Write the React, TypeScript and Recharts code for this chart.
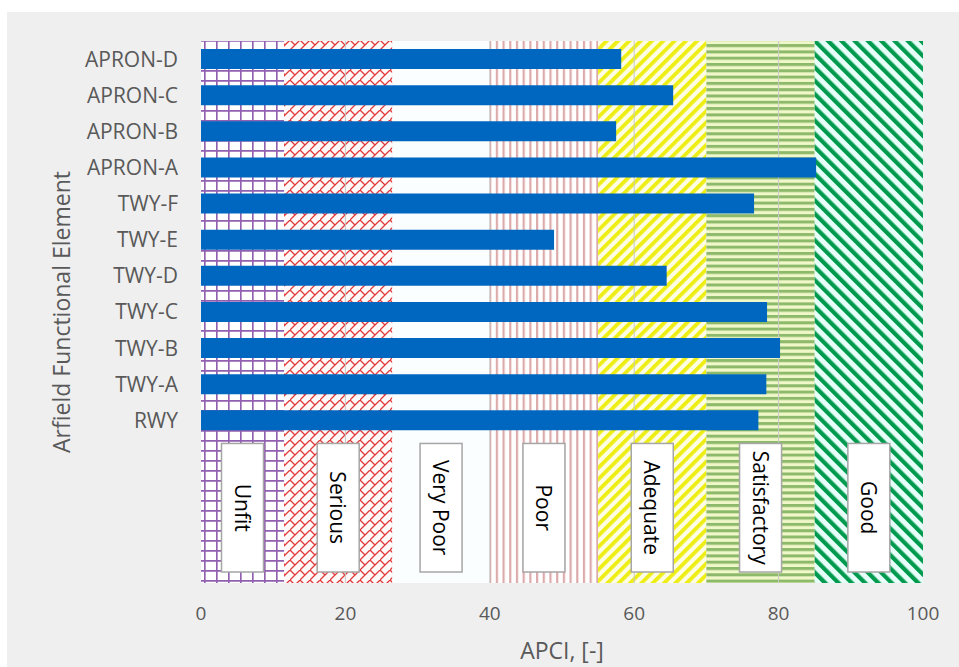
import { BarChart, Bar, XAxis, YAxis, ReferenceArea } from 'recharts'

const ELEMENTS = ['APRON-D', 'APRON-C', 'APRON-B', 'APRON-A', 'TWY-F', 'TWY-E', 'TWY-D', 'TWY-C', 'TWY-B', 'TWY-A', 'RWY']
const APCI = [58.2, 65.4, 57.5, 85.2, 76.6, 48.9, 64.5, 78.4, 80.2, 78.3, 77.2]
// empty rows below the bars, they hold the condition labels
const LABEL_ROWS = ['_r1', '_r2', '_r3', '_r4']

const CONDITIONS = ['Unfit', 'Serious', 'Very Poor', 'Poor', 'Adequate', 'Satisfactory', 'Good']
const CONDITION_LIMITS = [0, 11.5, 26.5, 40, 55, 70, 85, 100]
const X_TICKS = [0, 20, 40, 60, 80, 100]
const GRID_X = [20, 40, 60, 80]

const BAND_FILLS = ['url(#p-unfit)', 'url(#p-serious)', '#fbfefe', 'url(#p-poor)', 'url(#p-adequate)', 'url(#p-satis)', 'url(#p-good)']
const GRID_HALF = 0.07 // gridline drawn as a 1px wide area so it stays under bars and label boxes

const data = [
  ...ELEMENTS.map((name, i) => ({ name, apci: APCI[i] })),
  ...LABEL_ROWS.map(name => ({ name, apci: null })),
]

function BandLabel({ viewBox, text }: any) {
  if (!viewBox) return null
  const { x, y, width, height } = viewBox
  const w = 42
  const cx = x + width / 2
  const top = y + 5
  const h = height - 16
  const cy = top + h / 2
  return (
    <g>
      <rect x={cx - w / 2} y={top} width={w} height={h} fill="#fff" stroke="#a6a6a6" strokeWidth={1.5} />
      <text x={cx} y={cy} transform={`rotate(90 ${cx} ${cy})`} textAnchor="middle" dominantBaseline="central"
        fontSize={21} fill="#000">{text}</text>
    </g>
  )
}

function Patterns() {
  return (
    <svg width={0} height={0} style={{ position: 'absolute' }}>
      <defs>
        <pattern id="p-unfit" width={12} height={10} patternUnits="userSpaceOnUse">
          <rect width={12} height={10} fill="#fff" />
          <path d="M0.8,0 V10 M0,0.8 H12" stroke="#9160b0" strokeWidth={1.7} />
        </pattern>
        <pattern id="p-serious" width={10} height={10} patternUnits="userSpaceOnUse">
          <rect width={10} height={10} fill="#fff9f9" />
          <path d="M0,10 L10,0 M0,0 L5,5" stroke="#e03a3a" strokeWidth={1.3} />
        </pattern>
        <pattern id="p-poor" width={6.7} height={10} patternUnits="userSpaceOnUse">
          <rect width={6.7} height={10} fill="#fff" />
          <rect width={2.2} height={10} fill="#dcaaaa" />
        </pattern>
        <pattern id="p-adequate" width={8} height={8} patternUnits="userSpaceOnUse" patternTransform="rotate(45)">
          <rect width={8} height={8} fill="#fdfde6" />
          <rect width={3.8} height={8} fill="#eeee14" />
        </pattern>
        <pattern id="p-satis" width={10} height={6.3} patternUnits="userSpaceOnUse">
          <rect width={10} height={6.3} fill="#f0f7c8" />
          <rect width={10} height={3} fill="#8cb96a" />
        </pattern>
        <pattern id="p-good" width={9.4} height={9.4} patternUnits="userSpaceOnUse" patternTransform="rotate(-45)">
          <rect width={9.4} height={9.4} fill="#e6fff9" />
          <rect width={4.2} height={9.4} fill="#009a4e" />
        </pattern>
      </defs>
    </svg>
  )
}

export default function App() {
  const tickStyle = { fill: '#595959', fontSize: 21 }
  return (
    <div style={{ position: 'absolute', left: 0, top: 0, width: 959, height: 667, background: '#fff', fontFamily: "'Open Sans', sans-serif" }}>
      <div style={{ position: 'absolute', left: 7, top: 12, right: 0, bottom: 0, background: '#efefef' }} />
      <Patterns />
      <div style={{ position: 'absolute', left: 0, top: 0 }}>
        <BarChart layout="vertical" width={959} height={667} data={data}
          margin={{ top: 41, right: 36, bottom: 0, left: 0 }}>
          <XAxis type="number" domain={[0, 100]} ticks={X_TICKS} height={84}
            axisLine={false} tickLine={false} tickMargin={18} tick={{ ...tickStyle, fontSize: 19 }}
            label={{ value: 'APCI, [-]', position: 'insideBottom', offset: 8, fill: '#595959', fontSize: 23 }} />
          <YAxis type="category" dataKey="name" width={201} axisLine={false} tickLine={false} tickMargin={17}
            tick={tickStyle} interval={0} tickFormatter={(v: string) => (v.startsWith('_') ? '' : v)}
            label={{ value: 'Arfield Functional Element', angle: -90, position: 'insideLeft', offset: 62,
              fill: '#595959', fontSize: 23, style: { textAnchor: 'middle' } }} />
          {CONDITIONS.map((c, i) => (
            <ReferenceArea key={c} x1={CONDITION_LIMITS[i]} x2={CONDITION_LIMITS[i + 1]}
              fill={BAND_FILLS[i]} fillOpacity={1} stroke="none" ifOverflow="visible" />
          ))}
          {GRID_X.map(g => (
            <ReferenceArea key={'g' + g} x1={g - GRID_HALF} x2={g + GRID_HALF}
              fill="#c8c8c8" fillOpacity={1} stroke="none" />
          ))}
          <Bar dataKey="apci" fill="#0067c0" barSize={20} isAnimationActive={false} />
          {CONDITIONS.map((c, i) => (
            <ReferenceArea key={'lbl-' + c} x1={CONDITION_LIMITS[i]} x2={CONDITION_LIMITS[i + 1]}
              y1={LABEL_ROWS[0]} y2={LABEL_ROWS[LABEL_ROWS.length - 1]}
              fill="none" fillOpacity={0} stroke="none" label={<BandLabel text={c} />} />
          ))}
        </BarChart>
      </div>
    </div>
  )
}
